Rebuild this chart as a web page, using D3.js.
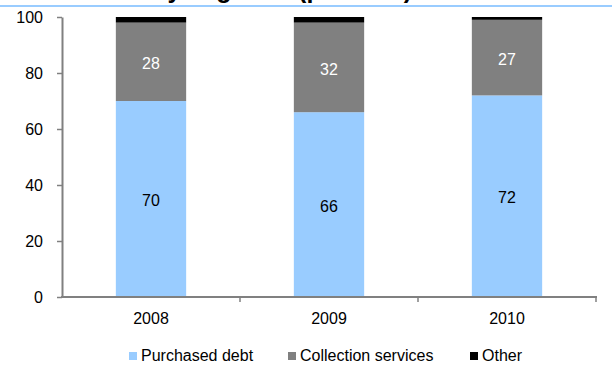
<!DOCTYPE html>
<html>
<head>
<meta charset="utf-8">
<script src="https://cdn.jsdelivr.net/npm/d3@7"></script>
<style>
  html, body { margin: 0; padding: 0; background: #fff; }
  svg { display: block; font-family: "Liberation Sans", Arial, sans-serif; }
</style>
</head>
<body>
<svg id="chart" width="612" height="367"></svg>
<script>
// Revenue split by segment, per cent
const years = ["2008", "2009", "2010"];
const purchasedDebt = [70, 66, 72];
const collectionServices = [28, 32, 27];
const other = [2, 2, 1];
const seriesNames = ["Purchased debt", "Collection services", "Other"];
const seriesColors = ["#99ccff", "#808080", "#000000"];
const yTicks = [0, 20, 40, 60, 80, 100];

const rows = years.map((y, i) => ({
  year: y,
  "Purchased debt": purchasedDebt[i],
  "Collection services": collectionServices[i],
  "Other": other[i]
}));

const svg = d3.select("#chart");
const plot = { left: 62, right: 596, top: 17, bottom: 297 };

const x = d3.scaleBand().domain(years).range([plot.left, plot.right]).padding(0);
const y = d3.scaleLinear().domain([0, 100]).range([plot.bottom, plot.top]);
const barW = x.bandwidth() * 0.395;

// Title (runs off the top edge) and rule beneath it
svg.append("text")
  .attr("x", 412).attr("y", -2)
  .attr("text-anchor", "end")
  .attr("font-size", 25).attr("font-weight", "bold")
  .attr("fill", "#000")
  .text("Revenue by segment (per cent)");
svg.append("rect")
  .attr("x", 0).attr("y", 5).attr("width", 612).attr("height", 2)
  .attr("fill", "#99ccff");

// Stacked bars
const stacked = d3.stack().keys(seriesNames)(rows);
const layers = svg.append("g").selectAll("g").data(stacked).join("g")
  .attr("fill", (d, i) => seriesColors[i]);
layers.selectAll("rect").data(d => d).join("rect")
  .attr("x", d => x(d.data.year) + (x.bandwidth() - barW) / 2)
  .attr("width", barW)
  .attr("y", d => y(d[1]))
  .attr("height", d => y(d[0]) - y(d[1]));

// Value labels for the two main segments
const labelled = [
  { idx: 0, color: "#000" },
  { idx: 1, color: "#fff" }
];
labelled.forEach(s => {
  svg.append("g").selectAll("text").data(stacked[s.idx]).join("text")
    .attr("x", d => x(d.data.year) + x.bandwidth() / 2)
    .attr("y", d => y((d[0] + d[1]) / 2))
    .attr("dy", "0.45em")
    .attr("text-anchor", "middle")
    .attr("font-size", 16)
    .attr("fill", s.color)
    .text(d => d[1] - d[0]);
});

// Y axis
const yAxis = svg.append("g")
  .attr("transform", `translate(${plot.left},0)`)
  .call(d3.axisLeft(y).tickValues(yTicks).tickSize(5).tickSizeOuter(0).tickPadding(14));
yAxis.select(".domain").attr("stroke", "#808080").attr("stroke-width", 2);
yAxis.selectAll(".tick line").attr("stroke", "#808080").attr("stroke-width", 1.5);
yAxis.selectAll(".tick text").attr("font-size", 16).attr("fill", "#000")
  .attr("font-family", "Liberation Sans, Arial, sans-serif");

// X axis with tick marks on category boundaries
const xAxisG = svg.append("g").attr("transform", `translate(0,${plot.bottom})`);
xAxisG.append("line")
  .attr("x1", plot.left - 1).attr("x2", plot.right + 1)
  .attr("stroke", "#808080").attr("stroke-width", 2);
xAxisG.selectAll("line.tk").data(years).join("line")
  .attr("class", "tk")
  .attr("x1", d => x(d) + x.bandwidth()).attr("x2", d => x(d) + x.bandwidth())
  .attr("y1", 0).attr("y2", 5)
  .attr("stroke", "#808080").attr("stroke-width", 1.5);
xAxisG.selectAll("text").data(years).join("text")
  .attr("x", d => x(d) + x.bandwidth() / 2)
  .attr("y", 27)
  .attr("text-anchor", "middle")
  .attr("font-size", 16)
  .text(d => d);

// Legend
const legendX = [129, 288, 470];
const legend = svg.append("g").selectAll("g").data(seriesNames).join("g")
  .attr("transform", (d, i) => `translate(${legendX[i]},352)`);
legend.append("rect")
  .attr("width", 8).attr("height", 8)
  .attr("fill", (d, i) => seriesColors[i]);
legend.append("text")
  .attr("x", 12).attr("y", 9)
  .attr("font-size", 16)
  .text(d => d);
</script>
</body>
</html>
